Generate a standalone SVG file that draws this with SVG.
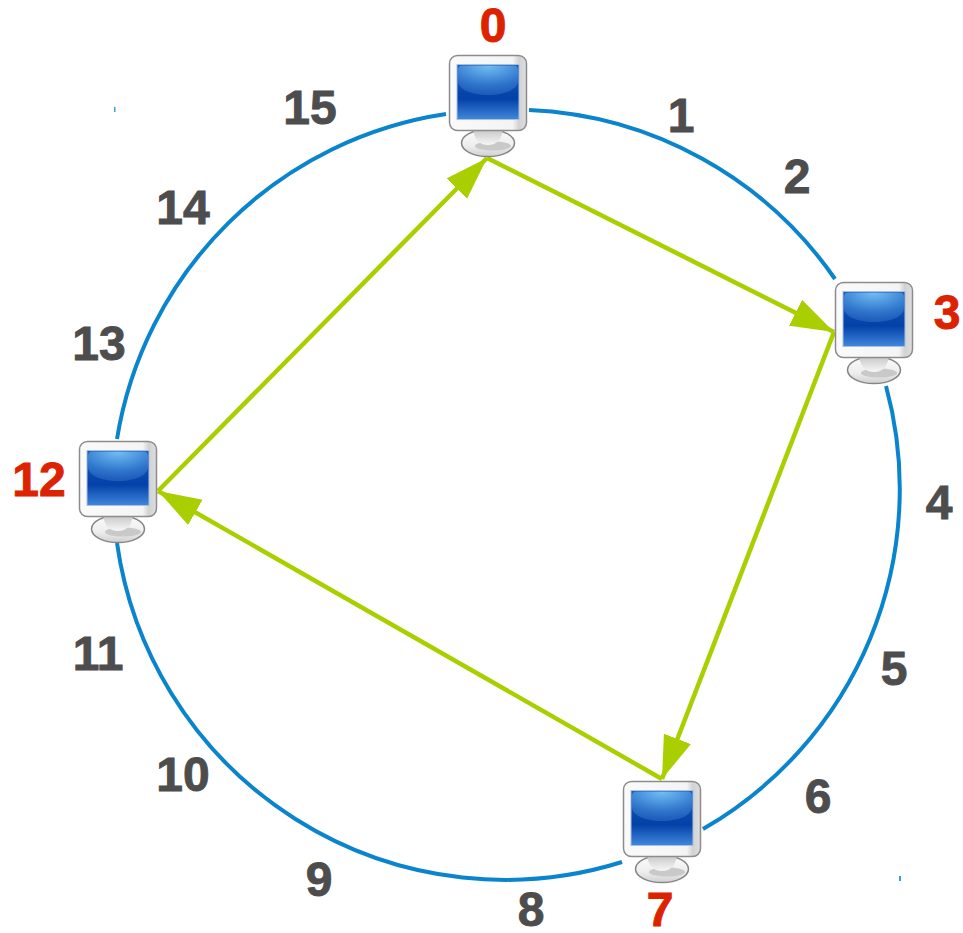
<svg xmlns="http://www.w3.org/2000/svg" width="963" height="933" viewBox="0 0 963 933">
<style>
text{font-family:"Liberation Sans",Arial,sans-serif;font-weight:700;font-size:48px;text-anchor:middle;stroke-width:.9px}
.n{fill:#4d4d4d;stroke:#4d4d4d}.r{fill:#dd2200;stroke:#dd2200}
.ring{fill:none;stroke:#0a84cc;stroke-width:4}
.link{fill:none;stroke:#aacf00;stroke-width:4.500;marker-end:url(#arrow)}
</style>
<defs>
<marker id="arrow" markerUnits="userSpaceOnUse" markerWidth="46" markerHeight="34" refX="43" refY="17" orient="auto"><path d="M0 2.500 L43 17 L0 31.500 Z" fill="#aacf00"/></marker>
<linearGradient id="bez" x1="0" y1="0" x2="1" y2="0"><stop offset="0" stop-color="#fafafa"/><stop offset=".82" stop-color="#f4f4f4"/><stop offset=".9" stop-color="#d2d2d2"/><stop offset="1" stop-color="#dedede"/></linearGradient>
<linearGradient id="scr" x1="0" y1="0" x2="0" y2="1"><stop offset="0" stop-color="#1d5cb8"/><stop offset=".62" stop-color="#0340a8"/><stop offset="1" stop-color="#4088dc"/></linearGradient>
<radialGradient id="gl" cx=".5" cy="0" r=".95"><stop offset="0" stop-color="#74bff4"/><stop offset=".7" stop-color="#2f75cc"/><stop offset="1" stop-color="#1f5dba"/></radialGradient>
<linearGradient id="base" x1="0" y1="0" x2="0" y2="1"><stop offset="0" stop-color="#fbfbfb"/><stop offset=".6" stop-color="#eeeeee"/><stop offset="1" stop-color="#d0d0d0"/></linearGradient>
<linearGradient id="neck" x1="0" y1="0" x2="0" y2="1"><stop offset="0" stop-color="#c6c6c6"/><stop offset="1" stop-color="#f7f7f7"/></linearGradient>
<g id="mon">
<ellipse cx="39" cy="88" rx="26.500" ry="13.500" fill="url(#base)" stroke="#858585" stroke-width="1.500"/>
<ellipse cx="44" cy="91" rx="18" ry="4.500" fill="#c9c9c9"/>
<path d="M24 74 Q26 90 39 90 Q52 90 54 74 Z" fill="url(#neck)"/>
<rect x="0.500" y="0.500" width="77" height="75" rx="8" fill="url(#bez)" stroke="#8c8c8c" stroke-width="1.500"/>
<rect x="8" y="9.500" width="62" height="55" fill="url(#scr)" stroke="#a9bfe0" stroke-width="1"/>
<path d="M13 10.500 H65 Q69 10.500 69 15 V26 C69 35 54 40 39 40 C24 40 9 35 9 26 V15 Q9 10.500 13 10.500 Z" fill="url(#gl)"/>
</g>
</defs>
<g id="connectors">
<path class="ring" d="M446 114 A392 392 0 0 0 117 439"/>
<path class="ring" d="M529 110 A392 392 0 0 1 835 279"/>
<path class="ring" d="M886 386 A392 392 0 0 1 703 829"/>
<path class="ring" d="M622 862 A392 392 0 0 1 117 543"/>
<path class="link" d="M487 158 L834 332"/>
<path class="link" d="M834 332 L662 779"/>
<path class="link" d="M662 779 L158 491"/>
<path class="link" d="M158 491 L487 158"/>
</g>
<g id="node-0"><use href="#mon" x="449" y="55"/><text class="r" x="493" y="42">0</text></g>
<g id="node-3"><use href="#mon" x="835" y="282"/><text class="r" x="947" y="329">3</text></g>
<g id="node-7"><use href="#mon" x="623" y="781"/><text class="r" x="660" y="926">7</text></g>
<g id="node-12"><use href="#mon" x="79" y="441"/><text class="r" x="39" y="496">12</text></g>
<g id="labels">
<text class="n" x="681" y="132">1</text>
<text class="n" x="797" y="193">2</text>
<text class="n" x="939" y="519">4</text>
<text class="n" x="894" y="685">5</text>
<text class="n" x="818" y="813">6</text>
<text class="n" x="531" y="926">8</text>
<text class="n" x="319" y="896">9</text>
<text class="n" x="183" y="791">10</text>
<text class="n" x="98" y="670">11</text>
<text class="n" x="99" y="360">13</text>
<text class="n" x="183" y="224">14</text>
<text class="n" x="310" y="124">15</text>
</g>
<rect x="114" y="107" width="1.500" height="5" fill="#3aa0e0"/>
<rect x="899" y="876" width="2" height="5" fill="#3aa0e0"/>
</svg>
